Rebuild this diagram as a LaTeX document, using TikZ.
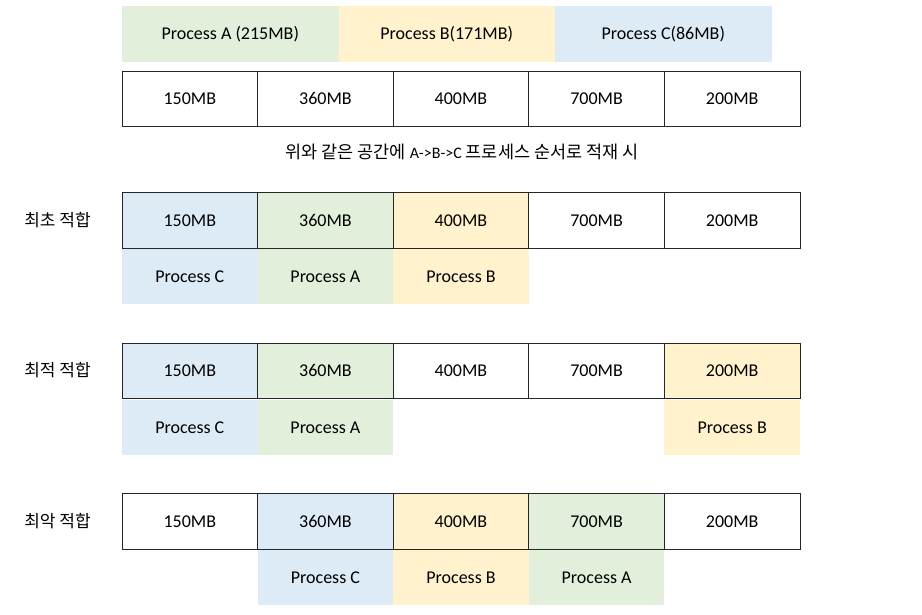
\documentclass[tikz,border=0pt]{standalone}
\usepackage{fontspec}
\setmainfont{Carlito}
\newfontfamily\kr{Noto Sans CJK KR}
\definecolor{pgreen}{HTML}{E2EFDA}
\definecolor{pyellow}{HTML}{FFF2CC}
\definecolor{pblue}{HTML}{DDEBF7}
\begin{document}
\begin{tikzpicture}[x=1pt,y=-1pt,
  txt/.style={text height=11.6pt, text depth=0pt, font=\fontsize{18}{20}\selectfont},
  cell/.style={txt, draw=black!85, line width=0.9pt, minimum width=135.6pt, minimum height=55.5pt, inner sep=0pt},
  proc/.style={txt, minimum width=135.6pt, minimum height=55pt, inner sep=0pt, anchor=north, yshift=-0.45pt},
  head/.style={txt, minimum width=216.5pt, minimum height=56pt, inner sep=0pt},
  lab/.style={font=\kr\fontsize{17}{19}\selectfont, inner sep=0pt}]
\useasboundingbox (0,0) rectangle (922,614);
% header
\node[head, fill=pgreen] (ha) at (230.25,34) {Process A (215MB)};
\node[head, fill=pyellow] (hb) at (446.75,34) {Process B(171MB)};
\node[head, fill=pblue] (hc) at (663.25,34) {Process C(86MB)};
% base memory
\foreach \i/\t in {1/150MB,2/360MB,3/400MB,4/700MB,5/200MB}
  \node[cell] (m\i) at ({122+135.6*(\i-0.5)},99) {\t};
\node[font=\kr\fontsize{17.5}{19}\selectfont, inner sep=0pt] (cap) at (462,152) {위와 같은 공간에 {\rmfamily\fontsize{16}{18}\selectfont A->B->C} 프로세스 순서로 적재 시};
% first fit
\node[lab] (l1) at (57.5,220) {최초 적합};
\foreach \i/\t/\c in {1/150MB/pblue,2/360MB/pgreen,3/400MB/pyellow,4/700MB/white,5/200MB/white}
  \node[cell, fill=\c] (a\i) at ({122+135.6*(\i-0.5)},220.5) {\t};
\node[proc, fill=pblue] (pa1) at (a1.south) {Process C};
\node[proc, fill=pgreen] (pa2) at (a2.south) {Process A};
\node[proc, fill=pyellow] (pa3) at (a3.south) {Process B};
% best fit
\node[lab] (l2) at (57.5,370) {최적 적합};
\foreach \i/\t/\c in {1/150MB/pblue,2/360MB/pgreen,3/400MB/white,4/700MB/white,5/200MB/pyellow}
  \node[cell, fill=\c] (b\i) at ({122+135.6*(\i-0.5)},371) {\t};
\node[proc, fill=pblue] (pb1) at (b1.south) {Process C};
\node[proc, fill=pgreen] (pb2) at (b2.south) {Process A};
\node[proc, fill=pyellow] (pb5) at (b5.south) {Process B};
% worst fit
\node[lab] (l3) at (57.5,521) {최악 적합};
\foreach \i/\t/\c in {1/150MB/white,2/360MB/pblue,3/400MB/pyellow,4/700MB/pgreen,5/200MB/white}
  \node[cell, fill=\c] (c\i) at ({122+135.6*(\i-0.5)},521.5) {\t};
\node[proc, fill=pblue] (pc2) at (c2.south) {Process C};
\node[proc, fill=pyellow] (pc3) at (c3.south) {Process B};
\node[proc, fill=pgreen] (pc4) at (c4.south) {Process A};
\end{tikzpicture}
\end{document}
